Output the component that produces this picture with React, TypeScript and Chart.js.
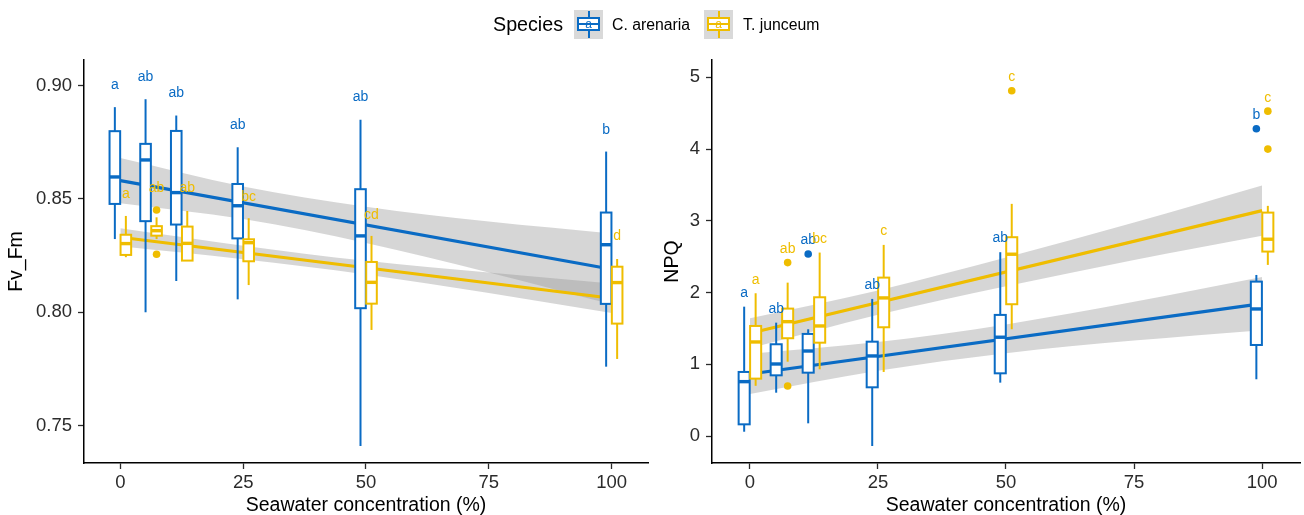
import React, { useEffect, useRef } from "react";
import { Chart, registerables } from "chart.js";

Chart.register(...registerables);

// ---------------- data ----------------
const concentrations = [0, 6.25, 12.5, 25, 50, 100];
const xTicks = [0, 25, 50, 75, 100];
const fvfmTicks = [0.75, 0.8, 0.85, 0.9];
const npqTicks = [0, 1, 2, 3, 4, 5];
const fitX = [0, 100];
const bandX = [0, 25, 50, 75, 100];

// [lower whisker, Q1, median, Q3, upper whisker] per concentration
const fvfmArenaria = [
  [0.8323, 0.8478, 0.8597, 0.8799, 0.8905],
  [0.8, 0.8402, 0.8672, 0.8743, 0.894],
  [0.8138, 0.8387, 0.8528, 0.88, 0.8868],
  [0.8057, 0.8326, 0.847, 0.8566, 0.8728],
  [0.741, 0.8018, 0.8337, 0.8543, 0.8849],
  [0.776, 0.8037, 0.8298, 0.844, 0.8709],
];
const fvfmJunceum = [
  [0.8243, 0.8253, 0.8303, 0.8342, 0.8425],
  [0.8323, 0.8338, 0.836, 0.838, 0.8419],
  [0.8228, 0.8228, 0.8304, 0.8378, 0.8447],
  [0.812, 0.8225, 0.8307, 0.8322, 0.8415],
  [0.7922, 0.8038, 0.8132, 0.8222, 0.8337],
  [0.7794, 0.795, 0.8131, 0.8201, 0.8235],
];
const fvfmArenariaOutlierConc: number[] = [];
const fvfmArenariaOutlierValues: number[] = [];
const fvfmJunceumOutlierConc = [6.25, 6.25];
const fvfmJunceumOutlierValues = [0.8451, 0.8256];
const fvfmArenariaFit = [0.8581, 0.819];
const fvfmJunceumFit = [0.8331, 0.8062];
const fvfmArenariaBandUpper = [0.8681, 0.8555, 0.8466, 0.84, 0.8348];
const fvfmArenariaBandLower = [0.8481, 0.8411, 0.8306, 0.8176, 0.8035];
const fvfmJunceumBandUpper = [0.8371, 0.8294, 0.8227, 0.8175, 0.8127];
const fvfmJunceumBandLower = [0.8291, 0.8234, 0.8167, 0.8085, 0.7997];
const fvfmArenariaLetters = ["a", "ab", "ab", "ab", "ab", "b"];
const fvfmJunceumLetters = ["a", "ab", "ab", "bc", "cd", "d"];
const fvfmArenariaLetterY = [0.9003, 0.9037, 0.8966, 0.8827, 0.8949, 0.8804];
const fvfmJunceumLetterY = [0.8519, 0.8549, 0.8549, 0.851, 0.8429, 0.8337];

const npqArenaria = [
  [0.06, 0.163, 0.758, 0.893, 1.803],
  [0.604, 0.846, 1.004, 1.279, 1.58],
  [0.177, 0.883, 1.185, 1.423, 1.488],
  [-0.139, 0.679, 1.116, 1.315, 1.911],
  [0.744, 0.874, 1.377, 1.688, 2.562],
  [0.791, 1.269, 1.771, 2.152, 2.245],
];
const npqJunceum = [
  [0.7, 0.8, 1.311, 1.534, 1.99],
  [1.036, 1.363, 1.594, 1.776, 2.138],
  [0.93, 1.301, 1.534, 1.934, 2.557],
  [0.893, 1.516, 1.925, 2.208, 2.664],
  [1.488, 1.837, 2.534, 2.771, 3.236],
  [2.385, 2.571, 2.743, 3.114, 3.208],
];
const npqArenariaOutlierConc = [12.5, 100];
const npqArenariaOutlierValues = [2.538, 4.282];
const npqJunceumOutlierConc = [6.25, 6.25, 50, 100, 100];
const npqJunceumOutlierValues = [2.417, 0.697, 4.812, 4.528, 3.999];
const npqArenariaFit = [0.865, 1.845];
const npqJunceumFit = [1.432, 3.142];
const npqArenariaBandUpper = [1.145, 1.31, 1.555, 1.87, 2.215];
const npqArenariaBandLower = [0.585, 0.91, 1.155, 1.33, 1.475];
const npqJunceumBandUpper = [1.642, 2.03, 2.487, 2.975, 3.492];
const npqJunceumBandLower = [1.222, 1.69, 2.087, 2.455, 2.792];
const npqArenariaLetters = ["a", "ab", "ab", "ab", "ab", "b"];
const npqJunceumLetters = ["a", "ab", "bc", "c", "c", "c"];
const npqArenariaLetterY = [1.99, 1.767, 2.724, 2.106, 2.757, 4.477];
const npqJunceumLetterY = [2.166, 2.604, 2.743, 2.85, 5.003, 4.71];

// ---------------- styles ----------------
const FONT = "'Liberation Sans', Arial, Helvetica, sans-serif";
const BLUE = "#0A6BC4";
const YELLOW = "#EFBD00";
const BAND = "rgba(153,153,153,0.4)";
const DODGE = 1.12;
const HALF_BOX = 1.08;
const X_MIN = -7.4;
const X_MAX = 107.4;

Chart.defaults.font.family = FONT;

type Series = {
  color: string;
  dodge: number;
  boxes: number[][];
  outlierConc: number[];
  outlierValues: number[];
  fit: number[];
  bandUpper: number[];
  bandLower: number[];
  letters: string[];
  letterY: number[];
};

function makeBoxPlugin(series: Series[]) {
  return {
    id: "boxplots",
    beforeDatasetDraw(chart: any, args: any) {
      const ds = chart.data.datasets[args.index];
      if (!ds.boxCarrier) return;
      const { ctx } = chart;
      const x = chart.scales.x;
      const y = chart.scales.y;
      ctx.save();
      concentrations.forEach((c, g) => {
        series.forEach((s) => {
          const [lo, q1, med, q3, hi] = s.boxes[g];
          const cx = x.getPixelForValue(c + s.dodge);
          const l = x.getPixelForValue(c + s.dodge - HALF_BOX);
          const r = x.getPixelForValue(c + s.dodge + HALF_BOX);
          ctx.strokeStyle = s.color;
          ctx.lineWidth = 2;
          ctx.beginPath();
          ctx.moveTo(cx, y.getPixelForValue(lo));
          ctx.lineTo(cx, y.getPixelForValue(hi));
          ctx.stroke();
          const t = y.getPixelForValue(q3);
          const b = y.getPixelForValue(q1);
          ctx.fillStyle = "#ffffff";
          ctx.fillRect(l, t, r - l, b - t);
          ctx.strokeRect(l, t, r - l, b - t);
          const m = y.getPixelForValue(med);
          ctx.lineWidth = 3.4;
          ctx.beginPath();
          ctx.moveTo(l, m);
          ctx.lineTo(r, m);
          ctx.stroke();
        });
      });
      ctx.restore();
    },
    afterDatasetsDraw(chart: any) {
      const { ctx } = chart;
      const x = chart.scales.x;
      const y = chart.scales.y;
      ctx.save();
      ctx.font = `14px ${FONT}`;
      ctx.textAlign = "center";
      ctx.textBaseline = "middle";
      series.forEach((s) => {
        ctx.fillStyle = s.color;
        concentrations.forEach((c, g) => {
          ctx.fillText(
            s.letters[g],
            x.getPixelForValue(c + s.dodge),
            y.getPixelForValue(s.letterY[g])
          );
        });
      });
      ctx.restore();
    },
  };
}

function buildConfig(opts: {
  series: Series[];
  yMin: number;
  yMax: number;
  yTicks: number[];
  yFormat: (v: number) => string;
  yTitle: string;
  yAxisWidth: number;
  yTitlePad: number;
}) {
  const datasets: any[] = [];
  opts.series.forEach((s) => {
    datasets.push({
      type: "line",
      data: bandX.map((bx, k) => ({ x: bx, y: s.bandUpper[k] })),
      borderWidth: 0,
      borderColor: "rgba(0,0,0,0)",
      pointRadius: 0,
      backgroundColor: BAND,
      fill: "+1",
      cubicInterpolationMode: "monotone",
      order: 10,
    });
    datasets.push({
      type: "line",
      data: bandX.map((bx, k) => ({ x: bx, y: s.bandLower[k] })),
      borderWidth: 0,
      borderColor: "rgba(0,0,0,0)",
      pointRadius: 0,
      fill: false,
      cubicInterpolationMode: "monotone",
      order: 10,
    });
  });
  opts.series.forEach((s) => {
    datasets.push({
      type: "line",
      data: fitX.map((fx, k) => ({ x: fx, y: s.fit[k] })),
      borderColor: s.color,
      borderWidth: 3.2,
      pointRadius: 0,
      fill: false,
      order: 8,
    });
  });
  datasets.push({ type: "scatter", data: [], boxCarrier: true, order: 5 });
  opts.series.forEach((s) => {
    datasets.push({
      type: "scatter",
      data: s.outlierConc.map((c, k) => ({ x: c + s.dodge, y: s.outlierValues[k] })),
      pointRadius: 3.8,
      pointBackgroundColor: s.color,
      pointBorderWidth: 0,
      borderWidth: 0,
      order: 1,
    });
  });

  const tickFont = { size: 18.5 };
  return {
    type: "scatter",
    data: { datasets },
    options: {
      responsive: false,
      animation: false,
      events: [],
      layout: { padding: { top: 60, right: 4, left: 0, bottom: 0 } },
      plugins: { legend: { display: false }, tooltip: { enabled: false } },
      scales: {
        x: {
          type: "linear",
          min: X_MIN,
          max: X_MAX,
          afterBuildTicks: (s: any) => {
            s.ticks = xTicks.map((v) => ({ value: v }));
          },
          afterFit: (s: any) => {
            s.height = 52;
          },
          ticks: {
            font: tickFont,
            color: "#2b2b2b",
            padding: 3,
            maxRotation: 0,
            autoSkip: false,
            callback: (v: any) => String(v),
          },
          grid: {
            display: true,
            drawOnChartArea: false,
            drawTicks: true,
            tickLength: 6,
            tickWidth: 1.3,
            tickColor: "#2b2b2b",
            color: "#2b2b2b",
          },
          border: { display: true, color: "#000000", width: 1.5 },
          title: {
            display: true,
            text: "Seawater concentration (%)",
            color: "#000000",
            font: { size: 19.5, lineHeight: 1 },
            padding: { top: 0, bottom: 0 },
          },
        },
        y: {
          type: "linear",
          min: opts.yMin,
          max: opts.yMax,
          afterBuildTicks: (s: any) => {
            s.ticks = opts.yTicks.map((v) => ({ value: v }));
          },
          afterFit: (s: any) => {
            s.width = opts.yAxisWidth;
          },
          ticks: {
            font: tickFont,
            color: "#2b2b2b",
            padding: 6,
            autoSkip: false,
            callback: (v: any) => opts.yFormat(Number(v)),
          },
          grid: {
            display: true,
            drawOnChartArea: false,
            drawTicks: true,
            tickLength: 6,
            tickWidth: 1.3,
            tickColor: "#2b2b2b",
            color: "#2b2b2b",
          },
          border: { display: true, color: "#000000", width: 1.5 },
          title: {
            display: true,
            text: opts.yTitle,
            color: "#000000",
            font: { size: 19.5, lineHeight: 1 },
            padding: { top: opts.yTitlePad, bottom: 0 },
          },
        },
      },
    },
    plugins: [makeBoxPlugin(opts.series)],
  };
}

const fvfmSeries: Series[] = [
  {
    color: BLUE,
    dodge: -DODGE,
    boxes: fvfmArenaria,
    outlierConc: fvfmArenariaOutlierConc,
    outlierValues: fvfmArenariaOutlierValues,
    fit: fvfmArenariaFit,
    bandUpper: fvfmArenariaBandUpper,
    bandLower: fvfmArenariaBandLower,
    letters: fvfmArenariaLetters,
    letterY: fvfmArenariaLetterY,
  },
  {
    color: YELLOW,
    dodge: DODGE,
    boxes: fvfmJunceum,
    outlierConc: fvfmJunceumOutlierConc,
    outlierValues: fvfmJunceumOutlierValues,
    fit: fvfmJunceumFit,
    bandUpper: fvfmJunceumBandUpper,
    bandLower: fvfmJunceumBandLower,
    letters: fvfmJunceumLetters,
    letterY: fvfmJunceumLetterY,
  },
];

const npqSeries: Series[] = [
  {
    color: BLUE,
    dodge: -DODGE,
    boxes: npqArenaria,
    outlierConc: npqArenariaOutlierConc,
    outlierValues: npqArenariaOutlierValues,
    fit: npqArenariaFit,
    bandUpper: npqArenariaBandUpper,
    bandLower: npqArenariaBandLower,
    letters: npqArenariaLetters,
    letterY: npqArenariaLetterY,
  },
  {
    color: YELLOW,
    dodge: DODGE,
    boxes: npqJunceum,
    outlierConc: npqJunceumOutlierConc,
    outlierValues: npqJunceumOutlierValues,
    fit: npqJunceumFit,
    bandUpper: npqJunceumBandUpper,
    bandLower: npqJunceumBandLower,
    letters: npqJunceumLetters,
    letterY: npqJunceumLetterY,
  },
];

function Panel({ left, config }: { left: number; config: () => any }) {
  const ref = useRef<HTMLCanvasElement>(null);
  useEffect(() => {
    const chart = new Chart(ref.current as HTMLCanvasElement, config());
    return () => chart.destroy();
  }, []);
  return (
    <canvas
      ref={ref}
      width={652}
      height={515}
      style={{ position: "absolute", left, top: 0, width: 652, height: 515, display: "block" }}
    />
  );
}

function LegendKey({ color, left }: { color: string; left: number }) {
  return (
    <div style={{ position: "absolute", left, top: 10, width: 29, height: 29, background: "#d9d9d9" }}>
      <div style={{ position: "absolute", left: 13.5, top: 1, width: 2, height: 27, background: color }} />
      <div
        style={{
          position: "absolute",
          left: 3,
          top: 7,
          width: 23,
          height: 14,
          background: "#ffffff",
          border: `2px solid ${color}`,
          boxSizing: "border-box",
        }}
      />
      <div style={{ position: "absolute", left: 3, top: 12.8, width: 23, height: 2.6, background: color }} />
      <div
        style={{
          position: "absolute",
          left: 0,
          width: 29,
          top: 14,
          transform: "translateY(-50%)",
          textAlign: "center",
          fontSize: 12,
          lineHeight: 1,
          color,
          fontFamily: FONT,
        }}
      >
        a
      </div>
    </div>
  );
}

function LegendText({ left, size, children }: { left: number; size: number; children: React.ReactNode }) {
  return (
    <div
      style={{
        position: "absolute",
        left,
        top: 25,
        transform: "translateY(-50%)",
        fontFamily: FONT,
        fontSize: size,
        lineHeight: 1,
        color: "#000000",
        whiteSpace: "nowrap",
      }}
    >
      {children}
    </div>
  );
}

export default function App() {
  return (
    <div
      style={{
        position: "absolute",
        left: 0,
        top: 0,
        width: 1304,
        height: 515,
        background: "#ffffff",
        overflow: "hidden",
      }}
    >
      <Panel
        left={0}
        config={() =>
          buildConfig({
            series: fvfmSeries,
            yMin: 0.7335,
            yMax: 0.9113,
            yTicks: fvfmTicks,
            yFormat: (v) => v.toFixed(2),
            yTitle: "Fv_Fm",
            yAxisWidth: 84,
            yTitlePad: 7,
          })
        }
      />
      <Panel
        left={652}
        config={() =>
          buildConfig({
            series: npqSeries,
            yMin: -0.376,
            yMax: 5.241,
            yTicks: npqTicks,
            yFormat: (v) => String(Math.round(v)),
            yTitle: "NPQ",
            yAxisWidth: 60,
            yTitlePad: 10.75,
          })
        }
      />
      <LegendText left={493} size={19.7}>Species</LegendText>
      <LegendKey color={BLUE} left={574} />
      <LegendText left={612} size={15.8}>C. arenaria</LegendText>
      <LegendKey color={YELLOW} left={704} />
      <LegendText left={743} size={15.8}>T. junceum</LegendText>
    </div>
  );
}
